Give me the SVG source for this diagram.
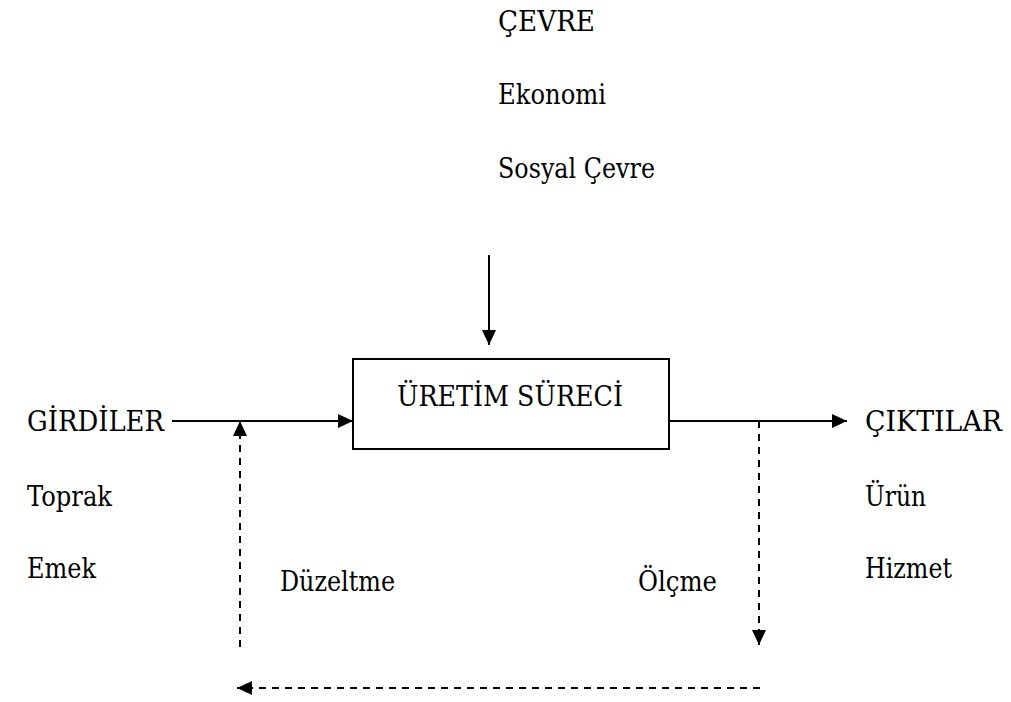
<svg xmlns="http://www.w3.org/2000/svg" width="1011" height="702" viewBox="0 0 1011 702">
  <style>
    text { font-family: "DejaVu Serif", serif; font-size: 27px; fill: #000; }
    .solid { stroke: #000; stroke-width: 2; fill: none; }
    .dash { stroke: #000; stroke-width: 2; fill: none; stroke-dasharray: 7 6; }
    .box { stroke: #000; stroke-width: 2; fill: #fff; }
  </style>
  <defs>
    <marker id="head" viewBox="0 0 15 14" refX="15" refY="7" markerWidth="15" markerHeight="14" markerUnits="userSpaceOnUse" orient="auto">
      <path d="M0,0 L15,7 L0,14 Z" fill="#000"/>
    </marker>
  </defs>

  <rect width="1011" height="702" fill="#fff"/>

  <!-- environment labels -->
  <g id="cevre">
    <text x="498" y="31" textLength="97" lengthAdjust="spacingAndGlyphs">ÇEVRE</text>
    <text x="498" y="104" textLength="108" lengthAdjust="spacingAndGlyphs">Ekonomi</text>
    <text x="498" y="178" textLength="157" lengthAdjust="spacingAndGlyphs">Sosyal Çevre</text>
  </g>

  <!-- process box -->
  <g id="uretim-sureci">
    <rect class="box" x="353" y="359" width="316" height="90"/>
    <text x="397" y="406" textLength="226" lengthAdjust="spacingAndGlyphs">ÜRETİM SÜRECİ</text>
  </g>

  <!-- inputs -->
  <g id="girdiler">
    <text x="27" y="431" textLength="137" lengthAdjust="spacingAndGlyphs">GİRDİLER</text>
    <text x="27" y="506" textLength="85" lengthAdjust="spacingAndGlyphs">Toprak</text>
    <text x="27" y="578" textLength="69" lengthAdjust="spacingAndGlyphs">Emek</text>
  </g>

  <!-- outputs -->
  <g id="ciktilar">
    <text x="865" y="431" textLength="137" lengthAdjust="spacingAndGlyphs">ÇIKTILAR</text>
    <text x="865" y="506" textLength="61" lengthAdjust="spacingAndGlyphs">Ürün</text>
    <text x="865" y="578" textLength="87" lengthAdjust="spacingAndGlyphs">Hizmet</text>
  </g>

  <!-- feedback labels -->
  <g id="duzeltme">
    <text x="280" y="591" textLength="115" lengthAdjust="spacingAndGlyphs">Düzeltme</text>
  </g>
  <g id="olcme">
    <text x="638" y="591" textLength="79" lengthAdjust="spacingAndGlyphs">Ölçme</text>
  </g>

  <!-- connectors -->
  <g id="connectors">
    <line class="solid" x1="489" y1="255" x2="489" y2="345" marker-end="url(#head)"/>
    <line class="solid" x1="172" y1="421" x2="353" y2="421" marker-end="url(#head)"/>
    <line class="solid" x1="669" y1="421" x2="847" y2="421" marker-end="url(#head)"/>
    <line class="dash" x1="759" y1="421" x2="759" y2="645" marker-end="url(#head)"/>
    <line class="dash" x1="760" y1="688" x2="237" y2="688" marker-end="url(#head)"/>
    <line class="dash" x1="240" y1="647" x2="240" y2="421" marker-end="url(#head)"/>
  </g>
</svg>
